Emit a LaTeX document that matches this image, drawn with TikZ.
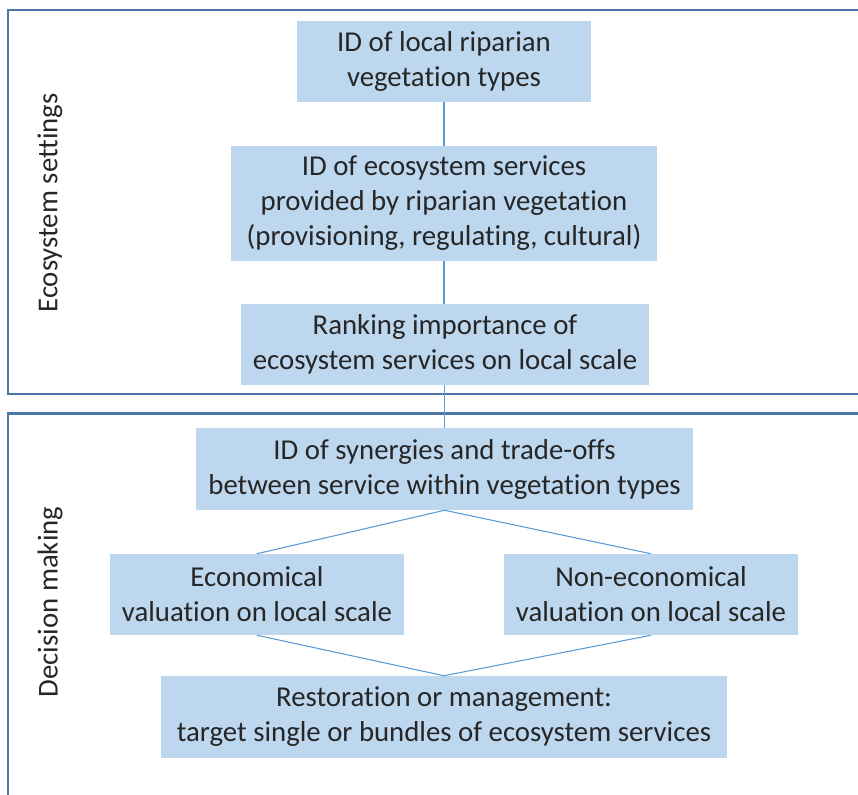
\documentclass[tikz,border=0pt]{standalone}
\usepackage{fontspec}
\setmainfont{Carlito}[Ligatures=NoCommon]
\definecolor{boxfill}{HTML}{BDD7EE}
\definecolor{framecol}{HTML}{4A76A8}
\definecolor{linkcol}{HTML}{5B9BD5}
\definecolor{txtcol}{HTML}{262626}
\begin{document}
\begin{tikzpicture}[x=0.75pt,y=-0.75pt,
  box/.style={fill=boxfill, draw=none, inner sep=0pt, align=center, text=txtcol,
    font=\fontsize{21.6pt}{26.25pt}\selectfont},
  sidelabel/.style={rotate=90, text=txtcol, inner sep=0pt,
    font=\fontsize{21.6pt}{26.25pt}\selectfont},
  framel/.style={draw=framecol, line width=1.6pt},
  link/.style={draw=linkcol, line width=0.8pt}]
\useasboundingbox (0,0) rectangle (858,795);
% frames
\draw[framel] (900,10) -- (8,10) -- (8,394) -- (900,394);
\draw[framel] (900,413.5) -- (8,413.5) -- (8,800);
% boxes
\node[box, minimum width=294*0.75pt, minimum height=81*0.75pt] (b1) at (444,61.5) {ID of local riparian\\vegetation types};
\node[box, minimum width=426*0.75pt, minimum height=115*0.75pt] (b2) at (444,203.5) {ID of ecosystem services\\provided by riparian vegetation\\(provisioning, regulating, cultural)};
\node[box, minimum width=408*0.75pt, minimum height=81*0.75pt] (b3) at (445,344.5) {Ranking importance of\\ecosystem services on local scale};
\node[box, minimum width=497*0.75pt, minimum height=82*0.75pt] (b4) at (444.5,469) {ID of synergies and trade-offs\\between service within vegetation types};
\node[box, minimum width=294*0.75pt, minimum height=81*0.75pt] (b5) at (257,594.5) {Economical\\valuation on local scale};
\node[box, minimum width=294*0.75pt, minimum height=81*0.75pt] (b6) at (651,594.5) {Non-economical\\valuation on local scale};
\node[box, minimum width=566*0.75pt, minimum height=82*0.75pt] (b7) at (444,717) {Restoration or management:\\target single or bundles of ecosystem services};
% side labels
\node[sidelabel] (l1) at (50,203) {Ecosystem settings};
\node[sidelabel] (l2) at (50,602) {Decision making};
% connectors
\draw[link] (b1.south) -- (b1.south |- b2.north);
\draw[link] (b2.south) -- (b2.south |- b3.north);
\draw[link] (b3.south -| b4.north) -- (b4.north);
\draw[link] (b4.south) -- (b5.north);
\draw[link] (b4.south) -- (b6.north);
\draw[link] (b5.south) -- (b7.north);
\draw[link] (b6.south) -- (b7.north);
\end{tikzpicture}
\end{document}
